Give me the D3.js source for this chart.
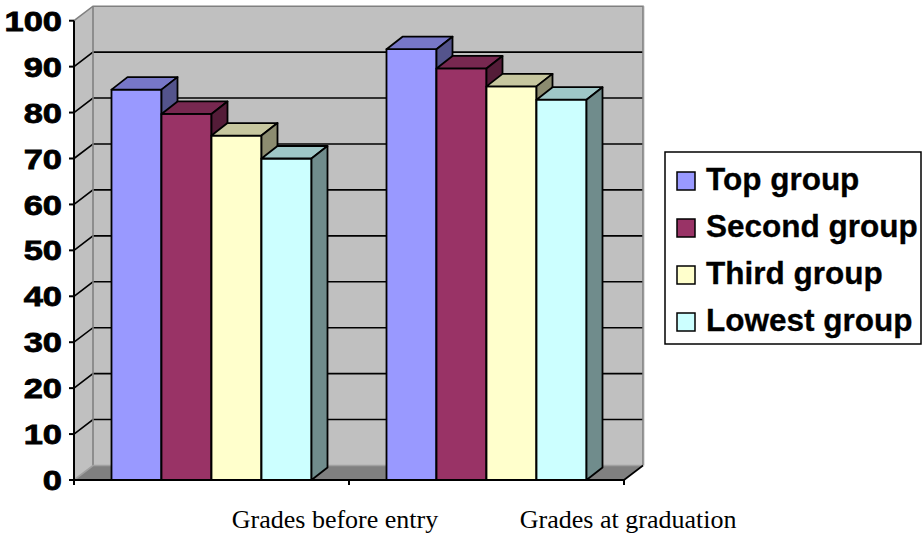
<!DOCTYPE html>
<html>
<head>
<meta charset="utf-8">
<script src="https://cdn.jsdelivr.net/npm/d3@7"></script>
<style>
  html, body { margin: 0; padding: 0; background: #fff; }
  svg { display: block; }
</style>
</head>
<body>
<svg id="chart" width="923" height="533"></svg>
<script>
// Grade averages per group, before entry and at graduation
const categories = ["Grades before entry", "Grades at graduation"];
const seriesNames = ["Top group", "Second group", "Third group", "Lowest group"];
const topGroup = [85, 93.8];
const secondGroup = [79.7, 89.6];
const thirdGroup = [75, 85.7];
const lowestGroup = [70, 82.8];
const yTicks = [0, 10, 20, 30, 40, 50, 60, 70, 80, 90, 100];
const seriesColors = ["#9999FF", "#993366", "#FFFFCC", "#CCFFFF"];

const seriesValues = [topGroup, secondGroup, thirdGroup, lowestGroup];

const svg = d3.select("#chart");

// plot frame (front plane) and 3-D depth offsets
const plotLeft = 74, plotRight = 624, plotBottom = 480, plotTop = 20.7;
const wallDx = 19, wallDy = -14.5;   // depth of the walls
const barDx = 16, barDy = -12.5;     // depth of each column

const y = d3.scaleLinear().domain([0, 100]).range([plotBottom, plotTop]);
const x0 = d3.scaleBand().domain(categories).range([plotLeft, plotRight]);
const barW = x0.bandwidth() / 5.5;     // gap width 150 %
const x1 = d3.scaleBand().domain(seriesNames).range([0, 4 * barW]);
const groupOffset = (x0.bandwidth() - 4 * barW) / 2;

const poly = pts => pts.map(p => p.join(",")).join(" ");
const L = plotLeft, R = plotRight;

// ---- walls and floor ----
const walls = svg.append("g");
// back wall
walls.append("polygon")
  .attr("points", poly([[L + wallDx, y(100) + wallDy], [R + wallDx, y(100) + wallDy],
                        [R + wallDx, y(0) + wallDy], [L + wallDx, y(0) + wallDy]]))
  .attr("fill", "#c0c0c0");
// side wall
walls.append("polygon")
  .attr("points", poly([[L, y(100)], [L + wallDx, y(100) + wallDy],
                        [L + wallDx, y(0) + wallDy], [L, y(0)]]))
  .attr("fill", "#c0c0c0");
// floor
walls.append("polygon")
  .attr("points", poly([[L, y(0)], [L + wallDx, y(0) + wallDy],
                        [R + wallDx, y(0) + wallDy], [R, y(0)]]))
  .attr("fill", "#808080");

// gridlines across side wall and back wall
const grid = svg.append("g");
yTicks.filter(t => t > 0 && t < 100).forEach(t => {
  grid.append("path")
    .attr("d", `M${L},${y(t)} L${L + wallDx},${y(t) + wallDy} L${R + wallDx},${y(t) + wallDy}`)
    .attr("fill", "none").attr("stroke", "#000").attr("stroke-width", 1.6);
});

// wall edges
const edges = svg.append("g").attr("fill", "none");
edges.append("path")
  .attr("d", `M${L},${y(100)} L${L + wallDx},${y(100) + wallDy} L${R + wallDx},${y(100) + wallDy} L${R + wallDx},${y(0) + wallDy}`)
  .attr("stroke", "#808080").attr("stroke-width", 1.6);
edges.append("path")
  .attr("d", `M${R + wallDx + 1.5},${y(100) + wallDy} L${R + wallDx + 1.5},${y(0) + wallDy}`)
  .attr("stroke", "#e0e0e0").attr("stroke-width", 1);
edges.append("path")
  .attr("d", `M${L + wallDx},${y(100) + wallDy} L${L + wallDx},${y(0) + wallDy}`)
  .attr("stroke", "#808080").attr("stroke-width", 1.6);
edges.append("path")
  .attr("d", `M${L},${y(0)} L${L + wallDx},${y(0) + wallDy} L${R + wallDx},${y(0) + wallDy}`)
  .attr("stroke", "#a0a0a0").attr("stroke-width", 1.6);
edges.append("path")
  .attr("d", `M${R},${y(0)} L${R + wallDx},${y(0) + wallDy}`)
  .attr("stroke", "#000").attr("stroke-width", 1.6);

// ---- columns ----
const shade = (c, k) => { const r = d3.rgb(c); return d3.rgb(r.r * k, r.g * k, r.b * k).formatHex(); };
const bars = svg.append("g")
  .attr("stroke", "#000").attr("stroke-width", 1.8).attr("stroke-linejoin", "round");

categories.forEach((cat, ci) => {
  seriesNames.forEach((name, si) => {
    const v = seriesValues[si][ci];
    const bx = x0(cat) + groupOffset + x1(name);
    const bw = x1.bandwidth();
    const ty = y(v), by = y(0);
    const col = seriesColors[si];
    bars.append("rect")
      .attr("x", bx).attr("y", ty).attr("width", bw).attr("height", by - ty)
      .attr("fill", col);
    bars.append("polygon")
      .attr("points", poly([[bx, ty], [bx + barDx, ty + barDy], [bx + bw + barDx, ty + barDy], [bx + bw, ty]]))
      .attr("fill", shade(col, 0.78));
    bars.append("polygon")
      .attr("points", poly([[bx + bw, ty], [bx + bw + barDx, ty + barDy], [bx + bw + barDx, by + barDy], [bx + bw, by]]))
      .attr("fill", shade(col, 0.55));
  });
});

// ---- axes ----
const axes = svg.append("g").attr("stroke", "#000").attr("stroke-width", 2).attr("fill", "none");
axes.append("line").attr("x1", L).attr("x2", L).attr("y1", y(100)).attr("y2", y(0));
axes.append("line").attr("x1", L).attr("x2", R).attr("y1", y(0)).attr("y2", y(0));
yTicks.forEach(t => {
  axes.append("line").attr("x1", L - 5).attr("x2", L).attr("y1", y(t)).attr("y2", y(t));
});
[L, x0(categories[1]), R].forEach(px => {
  axes.append("line").attr("x1", px).attr("x2", px).attr("y1", y(0)).attr("y2", y(0) + 5);
});

// value axis labels
const yLab = svg.append("g")
  .attr("font-family", "'Liberation Sans', Arial, sans-serif")
  .attr("font-weight", "bold").attr("font-size", 28).attr("fill", "#000")
  .attr("stroke", "#000").attr("stroke-width", 0.8);
yTicks.forEach(t => {
  yLab.append("text")
    .attr("transform", `translate(62,${y(t)}) scale(1.23,1)`)
    .attr("text-anchor", "end").attr("dy", "0.36em")
    .text(t);
});

// category labels
const xLab = svg.append("g")
  .attr("font-family", "'Liberation Serif', 'Times New Roman', serif")
  .attr("font-size", 26).attr("fill", "#000").attr("text-anchor", "middle");
categories.forEach((cat, i) => {
  xLab.append("text")
    .attr("x", L + 261 + i * x0.step() * 1.066)
    .attr("y", 528)
    .text(cat);
});

// ---- legend ----
const legend = svg.append("g");
legend.append("rect")
  .attr("x", 665).attr("y", 152).attr("width", 256).attr("height", 192)
  .attr("fill", "#fff").attr("stroke", "#000").attr("stroke-width", 1.5);
seriesNames.forEach((name, i) => {
  const base = 190 + i * 47;
  legend.append("rect")
    .attr("x", 677).attr("y", base - 18).attr("width", 18).attr("height", 18)
    .attr("fill", seriesColors[i]).attr("stroke", "#000").attr("stroke-width", 1.5);
  legend.append("text")
    .attr("x", 706).attr("y", base)
    .attr("font-family", "'Liberation Sans', Arial, sans-serif")
    .attr("font-weight", "bold").attr("font-size", 31.5).attr("fill", "#000")
    .attr("stroke", "#000").attr("stroke-width", 0.3)
    .text(name);
});
</script>
</body>
</html>
